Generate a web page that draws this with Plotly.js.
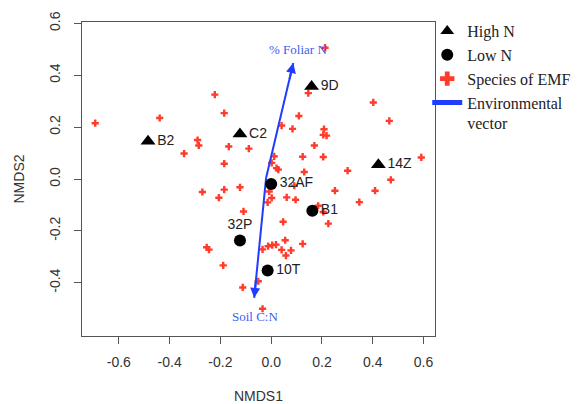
<!DOCTYPE html>
<html>
<head>
<meta charset="utf-8">
<script src="https://cdn.plot.ly/plotly-3.0.1.min.js"></script>
<style>html,body{margin:0;padding:0;background:#fff;}#chart{width:579px;height:404px;}</style>
</head>
<body>
<div id="chart"></div>
<script>
// ---- Data ----
const highNNames = ['B2', 'C2', '9D', '14Z'];
const highNX = [-0.485, -0.123, 0.159, 0.422];
const highNY = [0.145, 0.173, 0.356, 0.055];

const lowNNames = ['32AF', 'B1', '32P', '10T'];
const lowNX = [0.000, 0.162, -0.123, -0.014];
const lowNY = [-0.019, -0.122, -0.237, -0.353];
const lowNLabelPos = ['middle right', 'middle right', 'top center', 'middle right'];

const speciesX = [-0.693, -0.439, -0.222, -0.185, -0.290, -0.285, -0.343, -0.167, -0.088, -0.185,
  -0.271, -0.185, -0.123, -0.206, -0.109, -0.254, -0.245, -0.189, -0.112, -0.051,
  0.109, 0.041, 0.084, 0.208, 0.205, 0.218, 0.170, 0.012, 0.124, 0.205,
  0.002, 0.021, 0.028, 0.130, 0.301, 0.091, 0.251, 0.347, 0.002, -0.014,
  0.061, 0.096, 0.185, 0.205, 0.225, 0.047, 0.055, 0.124, -0.034, -0.012,
  0.004, 0.019, 0.041, 0.078, 0.058, -0.034, 0.212, 0.146, 0.402, 0.465,
  0.409, 0.471, 0.591, -0.008];
const speciesY = [0.215, 0.235, 0.325, 0.254, 0.150, 0.129, 0.098, 0.125, 0.117, 0.059,
  -0.050, -0.041, -0.032, -0.072, -0.125, -0.263, -0.272, -0.333, -0.418, -0.394,
  0.243, 0.206, 0.193, 0.192, 0.170, 0.167, 0.129, 0.087, 0.086, 0.085,
  0.062, 0.042, 0.036, 0.027, 0.032, -0.026, -0.045, -0.089, -0.073, -0.090,
  -0.071, -0.080, -0.103, -0.127, -0.172, -0.165, -0.236, -0.250, -0.271, -0.259,
  -0.255, -0.253, -0.273, -0.275, -0.295, -0.500, 0.506, 0.331, 0.295, 0.224,
  -0.045, -0.003, 0.083, -0.048];

const vecOrigin = [-0.020, 0.005];
const vecNames = ['% Foliar N', 'Soil C:N'];
const vecX = [0.087, -0.067];
const vecY = [0.447, -0.458];

const xTicks = [-0.6, -0.4, -0.2, 0.0, 0.2, 0.4, 0.6];
const yTicks = [-0.4, -0.2, 0.0, 0.2, 0.4, 0.6];

// ---- Styles ----
const SANS = 'Liberation Sans, Arial, sans-serif';
const SERIF = 'Liberation Serif, Times New Roman, serif';
const BLUE = '#1f3cff';
const RED = '#ff3b2b';

// vector line segments built from origin + tips
const vLineX = [], vLineY = [];
vecX.forEach((vx, i) => {
  vLineX.push(vecOrigin[0], vx, null);
  vLineY.push(vecOrigin[1], vecY[i], null);
});

const traces = [
  {
    type: 'scatter', mode: 'markers', name: 'Species of EMF', legendrank: 3,
    x: speciesX, y: speciesY,
    marker: {symbol: 'cross', size: 6, color: RED},
    hoverinfo: 'skip'
  },
  {
    type: 'scatter', mode: 'lines', name: 'Environmental<br>vector', legendrank: 4,
    x: vLineX, y: vLineY,
    line: {color: BLUE, width: 2},
    hoverinfo: 'skip'
  },
  {
    type: 'scatter', mode: 'markers+text', name: 'High N', legendrank: 1,
    x: highNX, y: highNY, text: highNNames, textposition: 'middle right',
    textfont: {family: SANS, size: 14, color: '#222'},
    marker: {symbol: 'triangle-up', size: 13, color: '#000'}
  },
  {
    type: 'scatter', mode: 'markers+text', name: 'Low N', legendrank: 2,
    x: lowNX, y: lowNY, text: lowNNames, textposition: lowNLabelPos,
    textfont: {family: SANS, size: 14, color: '#222'},
    marker: {symbol: 'circle', size: 12, color: '#000'}
  }
];

const annotations = [];
vecX.forEach((vx, i) => {
  const vy = vecY[i];
  // arrowhead at the tip
  annotations.push({
    x: vx, y: vy, xref: 'x', yref: 'y',
    ax: vecOrigin[0] + 0.85 * (vx - vecOrigin[0]),
    ay: vecOrigin[1] + 0.85 * (vy - vecOrigin[1]),
    axref: 'x', ayref: 'y',
    text: '', showarrow: true, arrowhead: 2, arrowsize: 1, arrowwidth: 2,
    arrowcolor: BLUE, standoff: 0, startstandoff: 0
  });
  // vector label
  annotations.push({
    x: vx, y: vy, xref: 'x', yref: 'y',
    text: vecNames[i], showarrow: false,
    xanchor: 'center', yanchor: vy > 0 ? 'bottom' : 'top',
    xshift: vy > 0 ? 5 : 1, yshift: vy > 0 ? 4 : -9,
    font: {family: SERIF, size: 13, color: '#3d5cf5'}
  });
});

const axisCommon = {
  showgrid: false, zeroline: false,
  showline: true, linecolor: '#555', linewidth: 1, mirror: true,
  ticks: 'outside', ticklen: 7, tickwidth: 1, tickcolor: '#555',
  tickfont: {family: SANS, size: 14, color: '#333'}
};

const layout = {
  width: 579, height: 404,
  margin: {l: 82, r: 144, t: 22, b: 68, autoexpand: false},
  paper_bgcolor: '#fff', plot_bgcolor: '#fff',
  showlegend: true,
  legend: {
    x: 0.978, xanchor: 'left', y: 1.025, yanchor: 'top',
    font: {family: SERIF, size: 16, color: '#222'},
    itemsizing: 'constant', valign: 'top', tracegroupgap: 0,
    bgcolor: 'rgba(0,0,0,0)'
  },
  xaxis: Object.assign({}, axisCommon, {
    range: [-0.745, 0.645], tickvals: xTicks, ticktext: xTicks.map(v => v.toFixed(1)),
    title: {text: 'NMDS1', standoff: 24, font: {family: SANS, size: 14, color: '#333'}},
    ticklabelstandoff: 6
  }),
  yaxis: Object.assign({}, axisCommon, {
    range: [-0.605, 0.605], tickvals: yTicks, ticktext: yTicks.map(v => v.toFixed(1)),
    tickangle: -90,
    title: {text: 'NMDS2', standoff: 19, font: {family: SANS, size: 14, color: '#333'}},
    ticklabelstandoff: 8
  }),
  annotations: annotations
};

Plotly.newPlot('chart', traces, layout, {displayModeBar: false, staticPlot: true});
</script>
</body>
</html>
